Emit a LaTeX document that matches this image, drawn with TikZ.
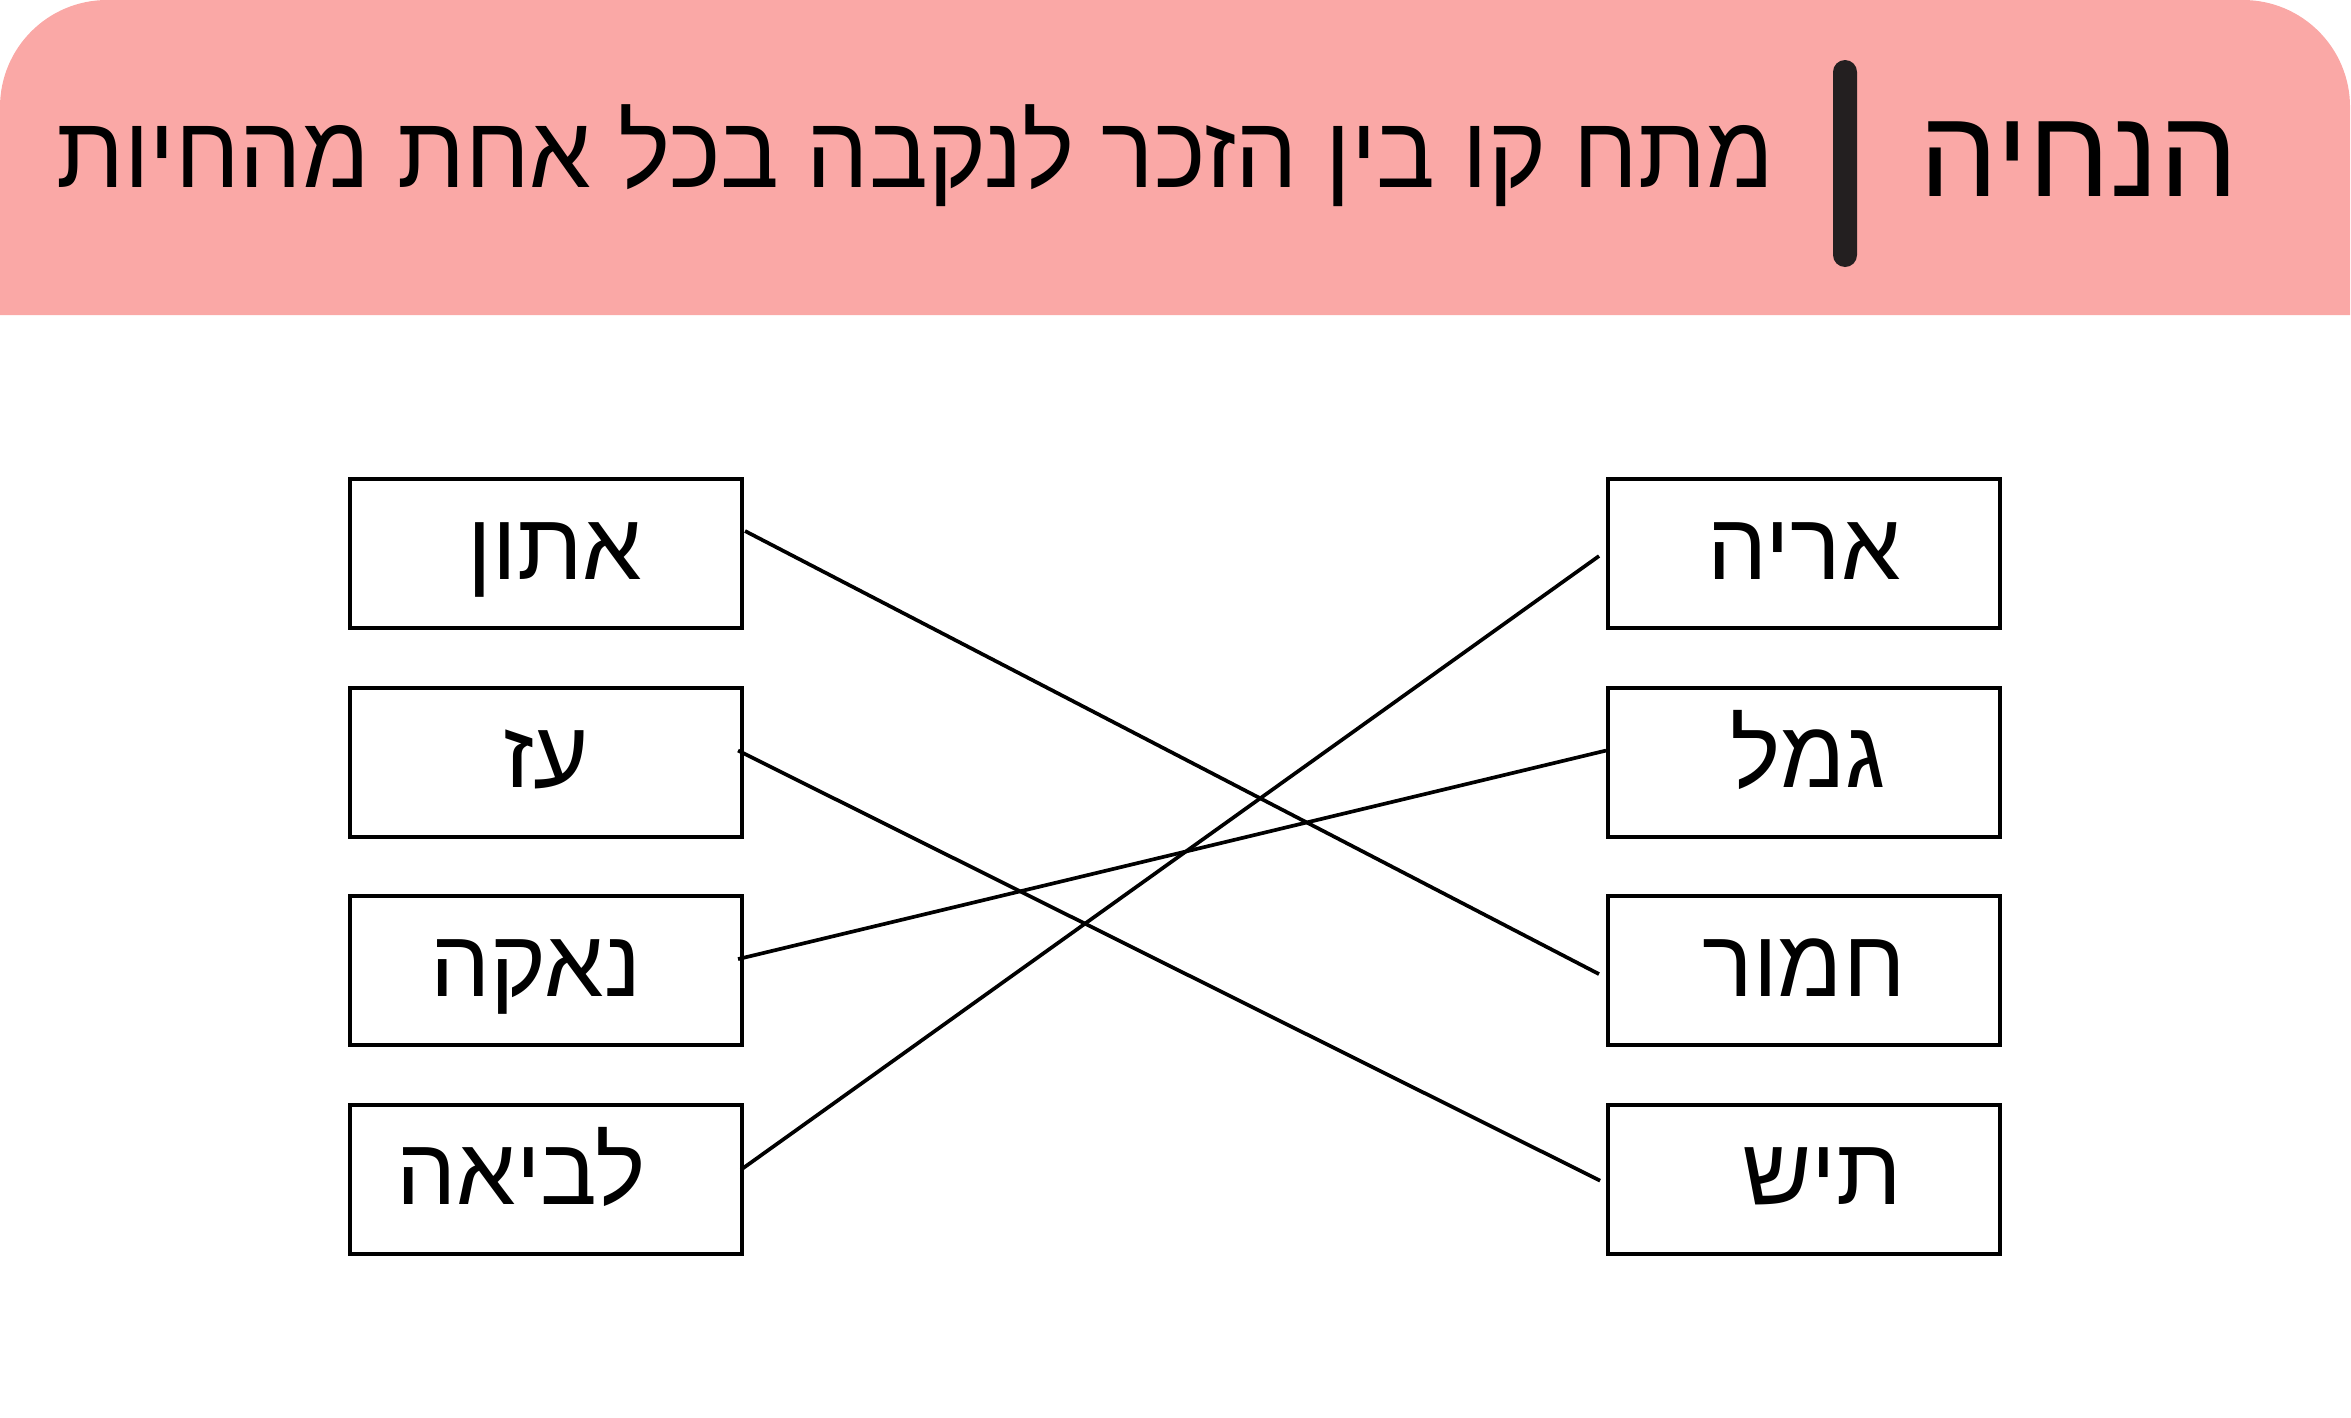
\documentclass[tikz,border=0pt]{standalone}
\usepackage{fontspec}
\newfontfamily\hebfont[Script=Hebrew]{Liberation Sans}
\TeXXeTstate=1
\usetikzlibrary{positioning}
\definecolor{headpink}{RGB}{250,168,166}
\definecolor{bardark}{RGB}{35,31,32}
\newcommand{\heb}[1]{\beginR #1\endR}
\tikzset{
  animal/.style={draw, line width=1.15pt, minimum width=3.92cm, minimum height=1.49cm,
    inner sep=0pt, text height=0.6cm, text depth=0.09cm,
    font=\hebfont\fontsize{27}{32}\selectfont},
  match/.style={line width=1.05pt}
}

\begin{document}
\begin{tikzpicture}
  \useasboundingbox (0,0) rectangle (23.51,-14.17);
  % header
  \fill[headpink] (0,-3.15) -- (0,-1.07) arc[start angle=180,end angle=90,radius=1.07]
    -- (22.43,0) arc[start angle=90,end angle=0,radius=1.07] -- (23.50,-3.15) -- cycle;
  \fill[bardark, rounded corners=0.12cm] (18.33,-0.60) rectangle (18.57,-2.67);
  \node[anchor=base, inner sep=0pt, font=\hebfont\fontsize{35.5}{40}\selectfont] (title) at (20.79,-1.965) {\heb{הנחיה}};
  \node[anchor=base, inner sep=0pt, font=\hebfont\fontsize{29}{34}\selectfont] (task) at (9.15,-1.875) {\scalebox{0.965}[1]{\heb{מתח קו בין הזכר לנקבה בכל אחת מהחיות}}};

  % left column
  \node[animal] (aton) at (5.46,-5.535) {\hspace*{0.18cm}\heb{אתון}};
  \node[animal, below=0.555cm of aton] (ez) {\heb{עז}};
  \node[animal, below=0.555cm of ez] (naka) {\heb{נאקה}\hspace*{0.2cm}};
  \node[animal, below=0.555cm of naka] (lavia) {\heb{לביאה}\hspace*{0.5cm}};
  % right column
  \node[animal, right=8.62cm of aton] (arye) {\heb{אריה}};
  \node[animal, right=8.62cm of ez] (gamal) {\hspace*{0.08cm}\heb{גמל}};
  \node[animal, right=8.62cm of naka] (hamor) {\heb{חמור}};
  \node[animal, right=8.62cm of lavia] (tayish) {\hspace*{0.36cm}\heb{תיש}};

  % matches
  \draw[match] ([xshift=0.01cm,yshift=0.225cm]aton.east) -- ([xshift=-0.07cm,yshift=-0.035cm]hamor.west);
  \draw[match] ([xshift=-0.06cm,yshift=0.115cm]ez.east) -- ([xshift=-0.06cm,yshift=-0.015cm]tayish.west);
  \draw[match] ([xshift=-0.06cm,yshift=0.115cm]naka.east) -- ([yshift=0.115cm]gamal.west);
  \draw[match] ([xshift=-0.03cm,yshift=0.095cm]lavia.east) -- ([xshift=-0.07cm,yshift=-0.025cm]arye.west);
\end{tikzpicture}
\end{document}
